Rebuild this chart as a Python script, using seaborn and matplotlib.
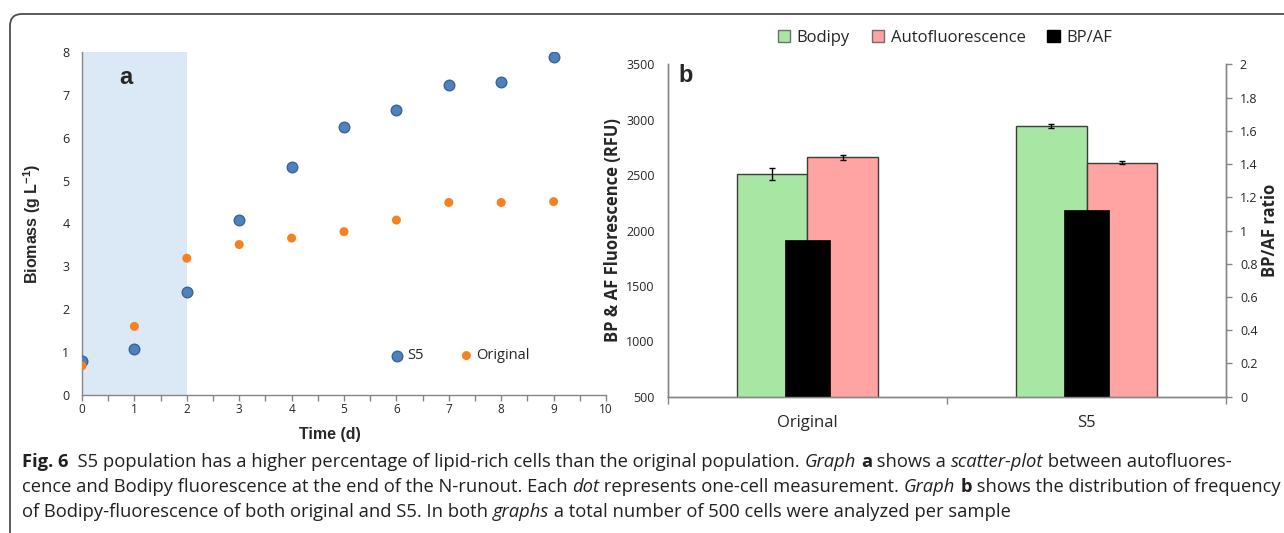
import numpy as np
import pandas as pd
import matplotlib
matplotlib.use("Agg")
import matplotlib.pyplot as plt
import seaborn as sns
from matplotlib.patches import Patch, FancyBboxPatch
from matplotlib.transforms import IdentityTransform
from matplotlib.ticker import MultipleLocator, FixedLocator
from matplotlib.font_manager import FontProperties

# ---------------- data ----------------
days = [0, 1, 2, 3, 4, 5, 6, 7, 8, 9]
s5_biomass = [0.80, 1.08, 2.40, 4.09, 5.32, 6.25, 6.64, 7.23, 7.30, 7.88]
orig_biomass = [0.68, 1.60, 3.19, 3.51, 3.66, 3.81, 4.08, 4.49, 4.49, 4.51]

groups = ["Original", "S5"]
bodipy = [2510, 2940]
bodipy_err = [55, 18]
autofl = [2660, 2612]
autofl_err = [25, 15]
ratio = [0.943, 1.122]

left_yticks = [0, 1, 2, 3, 4, 5, 6, 7, 8]
left_xticks = [0, 1, 2, 3, 4, 5, 6, 7, 8, 9, 10]
right_yticks = [500, 1000, 1500, 2000, 2500, 3000, 3500]
ratio_ticks = [0, 0.2, 0.4, 0.6, 0.8, 1.0, 1.2, 1.4, 1.6, 1.8, 2.0]
ratio_labels = ["0", "0.2", "0.4", "0.6", "0.8", "1", "1.2", "1.4", "1.6", "1.8", "2"]

caption = [
    [("Fig. 6", "bold"), ("  S5 population has a higher percentage of lipid-rich cells than the original population. ", "normal"),
     ("Graph", "italic"), (" ", "normal"), ("a", "bold"), (" shows a ", "normal"), ("scatter-plot", "italic"),
     (" between autofluores-", "normal")],
    [("cence and Bodipy fluorescence at the end of the N-runout. Each ", "normal"), ("dot", "italic"),
     (" represents one-cell measurement. ", "normal"), ("Graph", "italic"), (" ", "normal"), ("b", "bold"),
     (" shows the distribution of frequency", "normal")],
    [("of Bodipy-fluorescence of both original and S5. In both ", "normal"), ("graphs", "italic"),
     (" a total number of 500 cells were analyzed per sample", "normal")],
]

# ---------------- style ----------------
sns.set_theme(style="white")
plt.rcParams["font.family"] = ["Open Sans", "DejaVu Sans"]
plt.rcParams["mathtext.fontset"] = "custom"
plt.rcParams["mathtext.rm"] = "Liberation Sans"
plt.rcParams["mathtext.bf"] = "Liberation Sans:bold"

W, H = 1284, 533
fig = plt.figure(figsize=(W / 100, H / 100), dpi=100)
fig.patch.set_facecolor("white")

axis_gray = "#868686"
tick_color = "#262626"

# frame around the figure
frame = FancyBboxPatch((10, -30), 1400, H - 14 + 30, boxstyle="round,pad=0,rounding_size=12",
                       transform=IdentityTransform(), fill=False, ec="#4d4d4d", lw=1.3)
fig.add_artist(frame)

# ---------------- panel a ----------------
ax1 = fig.add_axes([82 / W, 1 - 395 / H, 524 / W, 343 / H])
ax1.axvspan(0, 2, color="#DAE9F5", lw=0, zorder=0)
df = pd.DataFrame({"day": days * 2, "biomass": s5_biomass + orig_biomass,
                   "strain": ["S5"] * len(days) + ["Original"] * len(days)})
sns.scatterplot(data=df[df.strain == "S5"], x="day", y="biomass", color="#4F81BD",
                edgecolor="#3A6398", linewidth=1, s=58, ax=ax1, label="S5", zorder=3)
sns.scatterplot(data=df[df.strain == "Original"], x="day", y="biomass", color="#F7801F",
                edgecolor="none", s=42, ax=ax1, label="Original", zorder=3)
ax1.set_xlim(0, 10)
ax1.set_ylim(0, 8)
ax1.xaxis.set_major_locator(FixedLocator(left_xticks))
ax1.xaxis.set_minor_locator(MultipleLocator(0.5))
ax1.yaxis.set_major_locator(FixedLocator(left_yticks))
ax1.tick_params(axis="x", which="both", direction="out", length=4, width=1, color=axis_gray,
                labelsize=8.5, labelcolor=tick_color, pad=2, bottom=True)
ax1.tick_params(axis="y", which="both", length=0, labelsize=9, labelcolor=tick_color, pad=9)
for sp in ["top", "right"]:
    ax1.spines[sp].set_visible(False)
for sp in ["left", "bottom"]:
    ax1.spines[sp].set_color(axis_gray)
    ax1.spines[sp].set_linewidth(1)
ax1.set_xlabel("Time (d)", fontweight="bold", fontsize=11.5, family="Liberation Sans")
ax1.set_ylabel("Biomass (g L$^{\\mathbf{-1}}$)", fontweight="bold", fontsize=11.5, family="Liberation Sans")
ax1.xaxis.set_label_coords(0.473, -0.093)
ax1.yaxis.set_label_coords(-0.074, 0.5)
ax1.text(0.084, 0.925, "a", transform=ax1.transAxes, fontsize=17, fontweight="bold",
         family="Liberation Sans", ha="center", va="center")
ax1.legend(loc="center", bbox_to_anchor=(0.723, 0.114), ncol=2, frameon=False, fontsize=10.5,
           handlelength=0.8, handletextpad=0.3, columnspacing=2.5, markerscale=1.0)

# ---------------- panel b ----------------
ax2 = fig.add_axes([668 / W, 1 - 396.7 / H, 558 / W, 332.4 / H])
dfb = pd.DataFrame({"group": groups * 2, "value": bodipy + autofl,
                    "series": ["Bodipy"] * 2 + ["Autofluorescence"] * 2})
green, pink = "#A8E6A3", "#FFA3A3"
sns.barplot(data=dfb, x="group", y="value", hue="series", hue_order=["Bodipy", "Autofluorescence"],
            palette={"Bodipy": green, "Autofluorescence": pink}, width=0.508, saturation=1,
            edgecolor="#3c3c3c", linewidth=1, errorbar=None, legend=False, ax=ax2)
for cont, errs in zip(ax2.containers, [bodipy_err, autofl_err]):
    xs = [p.get_x() + p.get_width() / 2 for p in cont.patches]
    ys = [p.get_height() for p in cont.patches]
    ax2.errorbar(xs, ys, yerr=errs, fmt="none", ecolor="black", elinewidth=1, capsize=2, capthick=1, zorder=5)
ax2.set_ylim(500, 3500)
ax2.yaxis.set_major_locator(FixedLocator(right_yticks))

ax3 = ax2.twinx()
sns.barplot(x=groups, y=ratio, color="black", width=0.164, saturation=1, edgecolor="black",
            linewidth=0.5, errorbar=None, ax=ax3)
ax3.set_ylim(0, 2)
ax3.set_yticks(ratio_ticks)
ax3.set_yticklabels(ratio_labels)
ax2.set_xlim(-0.5, 1.5)

ax2.xaxis.set_minor_locator(FixedLocator([-0.5, 0.5, 1.5]))
ax2.tick_params(axis="x", which="major", length=0, labelsize=12, labelcolor=tick_color, pad=13)
ax2.tick_params(axis="x", which="minor", direction="out", length=5, width=1, color=axis_gray, bottom=True)
ax2.tick_params(axis="y", length=0, labelsize=9, labelcolor=tick_color, pad=9.5)
ax3.tick_params(axis="y", direction="out", length=4, width=1, color=axis_gray, labelsize=9,
                labelcolor=tick_color, pad=6, right=True)
for a in (ax2, ax3):
    a.spines["top"].set_visible(False)
    for sp in ["left", "bottom", "right"]:
        a.spines[sp].set_color(axis_gray)
        a.spines[sp].set_linewidth(1)
ax2.set_xlabel("")
ax3.set_xlabel("")
ax2.set_ylabel("BP & AF Fluorescence (RFU)", fontweight="bold", fontsize=12)
ax3.set_ylabel("BP/AF ratio", fontweight="bold", fontsize=12, rotation=90)
ax2.yaxis.set_label_coords(-0.082, 0.5)
ax3.yaxis.set_label_coords(1.063, 0.5)
ax3.text(0.032, 0.965, "b", transform=ax2.transAxes, fontsize=17, fontweight="bold",
         family="Liberation Sans", ha="center", va="center")

handles = [Patch(facecolor=green, edgecolor="#6e6e6e", label="Bodipy"),
           Patch(facecolor=pink, edgecolor="#6e6e6e", label="Autofluorescence"),
           Patch(facecolor="black", edgecolor="black", label="BP/AF")]
fig.legend(handles=handles, loc="center", bbox_to_anchor=(945 / W, 1 - 38 / H), ncol=3, frameon=False,
           fontsize=12, handlelength=0.75, handleheight=0.75, handletextpad=0.4, columnspacing=1.3)

# ---------------- caption ----------------
renderer = fig.canvas.get_renderer()
cap_family = ["Open Sans", "DejaVu Sans"]


def props(style, size):
    return FontProperties(family=cap_family, size=size,
                          weight="bold" if style == "bold" else "normal",
                          style="italic" if style == "italic" else "normal")


def width_of(txt, style, size):
    fp = props(style, size)
    w1, _, _ = renderer.get_text_width_height_descent("|" + txt + "|", fp, ismath=False)
    w0, _, _ = renderer.get_text_width_height_descent("||", fp, ismath=False)
    return w1 - w0


base = 10.0
line2_w = sum(width_of(t, s, base) for t, s in caption[1])
cap_size = base * (1256 / line2_w)

baselines = [467, 492, 517]
for line, yb in zip(caption, baselines):
    x = 22
    for txt, style in line:
        fig.text(x / W, 1 - yb / H, txt, fontproperties=props(style, cap_size),
                 color="#231F20", ha="left", va="baseline")
        x += width_of(txt, style, cap_size)

fig.savefig("out.png", dpi=100, facecolor="white")
